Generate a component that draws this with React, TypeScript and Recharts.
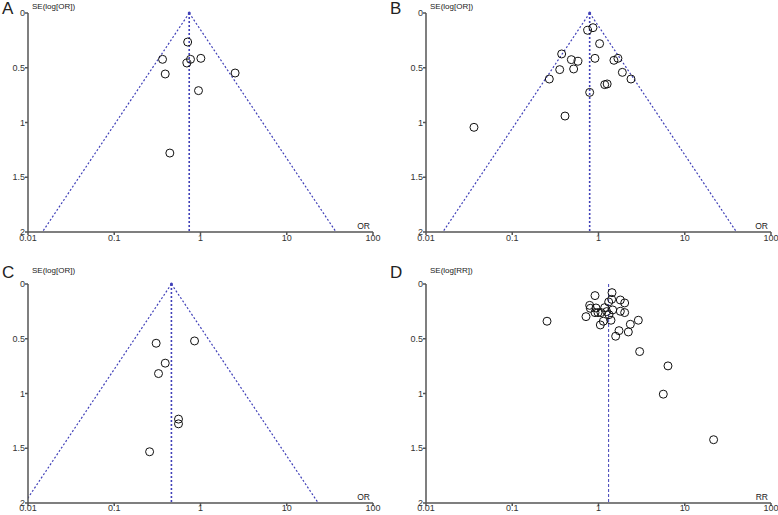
import React from 'react';
import { ScatterChart, Scatter, XAxis, YAxis, ReferenceLine, ReferenceDot } from 'recharts';

const xTicks = [0.01, 0.1, 1, 10, 100];
const yTicks = [0, 0.5, 1, 1.5, 2];

const orA = [0.71, 0.363, 0.766, 1.01, 0.695, 0.39, 2.52, 0.948, 0.441];
const seA = [0.265, 0.423, 0.423, 0.414, 0.457, 0.557, 0.548, 0.709, 1.279];
const summaryA = 0.74;

const orB = [0.748, 0.863, 1.03, 0.374, 0.484, 0.578, 0.91, 1.51, 1.68, 0.355, 0.515, 0.269, 1.89, 2.38, 1.18, 1.26, 0.79, 0.409, 0.036];
const seB = [0.158, 0.134, 0.28, 0.374, 0.426, 0.441, 0.414, 0.432, 0.414, 0.517, 0.511, 0.603, 0.542, 0.603, 0.654, 0.648, 0.725, 0.941, 1.044];
const summaryB = 0.79;

const orC = [0.306, 0.853, 0.39, 0.326, 0.556, 0.556, 0.257];
const seC = [0.541, 0.52, 0.723, 0.818, 1.234, 1.277, 1.532];
const summaryC = 0.46;

const rrD = [1.434, 0.911, 1.421, 1.791, 1.312, 2.011, 0.79, 1.179, 0.935, 0.804, 1.46, 1.791, 2.011, 0.911, 0.987, 1.069, 1.244, 1.323, 0.716, 0.253, 1.138, 1.396, 2.896, 1.05, 2.339, 1.729, 2.218, 1.581, 3.0, 6.39, 5.64, 21.6];
const seD = [0.079, 0.106, 0.14, 0.146, 0.164, 0.173, 0.195, 0.216, 0.219, 0.222, 0.237, 0.249, 0.261, 0.261, 0.261, 0.261, 0.252, 0.28, 0.298, 0.34, 0.34, 0.331, 0.331, 0.374, 0.368, 0.426, 0.438, 0.477, 0.617, 0.748, 1.006, 1.422];
const summaryD = 1.31;

const Z = 1.96;
const SE_MAX = 2;

const FONT = '"Liberation Sans", Arial, sans-serif';
const BLUE = '#4040b8';

const toPoints = (xs: number[], ys: number[]) => xs.map((x, i) => ({ x, y: ys[i] }));

const OpenCircle = (props: any) => {
  const { cx, cy } = props;
  if (cx == null || cy == null) return null;
  return <circle cx={cx} cy={cy} r={4} fill="none" stroke="#111" strokeWidth={1} />;
};

type PanelProps = {
  left: number; top: number; width: number; height: number;
  marginTop: number; marginRight: number; yAxisWidth: number; xAxisHeight: number;
  data: { x: number; y: number }[]; summary: number; funnel: boolean;
  yTitle: string; xTitle: string; letter: string; titleDy: number; xTickMargin: number;
  vWidth: number; vDash: string; letterTop: number;
};

const Panel = (p: PanelProps) => {
  const lowX = p.summary / Math.exp(Z * SE_MAX);
  const highX = p.summary * Math.exp(Z * SE_MAX);
  const YTitle = (props: any) => {
    const vb = props.viewBox || {};
    return (
      <text x={vb.x + vb.width + 4} y={vb.y + p.titleDy} fontSize={8} fontFamily={FONT} fill="#222" dominantBaseline="middle">
        {p.yTitle}
      </text>
    );
  };
  const XTitle = (props: any) => {
    const vb = props.viewBox || {};
    return (
      <text x={vb.x + vb.width - 3} y={vb.y - 3} fontSize={8.5} fontFamily={FONT} fill="#222" textAnchor="end">
        {p.xTitle}
      </text>
    );
  };
  return (
    <div style={{ position: 'absolute', left: p.left, top: p.top, width: p.width, height: p.height }}>
      <div style={{ position: 'absolute', left: 2, top: p.letterTop, fontSize: 17, lineHeight: 1, fontFamily: FONT, color: '#222', zIndex: 2 }}>
        {p.letter}
      </div>
      <ScatterChart width={p.width} height={p.height} margin={{ top: p.marginTop, right: p.marginRight, left: 0, bottom: 0 }}>
        <XAxis
          type="number"
          dataKey="x"
          scale="log"
          domain={[0.01, 100]}
          allowDataOverflow
          ticks={xTicks}
          interval={0}
          tickFormatter={(v: number) => String(v)}
          height={p.xAxisHeight}
          tickSize={3}
          tickMargin={p.xTickMargin}
          stroke="#555"
          strokeWidth={1.5}
          tick={{ fontSize: 9, fill: '#333', fontFamily: FONT }}
          label={<XTitle />}
        />
        <YAxis
          type="number"
          dataKey="y"
          domain={[0, 2]}
          reversed
          allowDataOverflow
          ticks={yTicks}
          interval={0}
          tickFormatter={(v: number) => String(v)}
          width={p.yAxisWidth}
          tickSize={3}
          tickMargin={0}
          stroke="#555"
          strokeWidth={1.5}
          tick={{ fontSize: 9, fill: '#333', fontFamily: FONT }}
          label={<YTitle />}
        />
        {p.funnel && (
          <ReferenceLine
            segment={[{ x: p.summary, y: 0 }, { x: lowX, y: SE_MAX }]}
            stroke={BLUE}
            strokeWidth={1.2}
            strokeDasharray="2 2"
            ifOverflow="hidden"
          />
        )}
        {p.funnel && (
          <ReferenceLine
            segment={[{ x: p.summary, y: 0 }, { x: highX, y: SE_MAX }]}
            stroke={BLUE}
            strokeWidth={1.2}
            strokeDasharray="2 2"
            ifOverflow="hidden"
          />
        )}
        <ReferenceLine
          segment={[{ x: p.summary, y: 0 }, { x: p.summary, y: SE_MAX }]}
          stroke={BLUE}
          strokeWidth={p.vWidth}
          strokeDasharray={p.vDash}
          ifOverflow="hidden"
        />
        {p.funnel && <ReferenceDot x={p.summary} y={0} r={1.5} fill={BLUE} stroke="none" />}
        <Scatter data={p.data} shape={<OpenCircle />} isAnimationActive={false} />
      </ScatterChart>
    </div>
  );
};

export default function App() {
  return (
    <div style={{ position: 'absolute', left: 0, top: 0, width: 778, height: 515, background: '#fff', overflow: 'hidden' }}>
      <Panel left={0} top={0} width={389} height={255} marginTop={13} marginRight={16} yAxisWidth={28} xAxisHeight={23}
        data={toPoints(orA, seA)} summary={summaryA} funnel yTitle="SE(log[OR])" xTitle="OR" letter="A" titleDy={-6} xTickMargin={0}
        vWidth={1.6} vDash="2 2" letterTop={0} />
      <Panel left={388} top={0} width={390} height={255} marginTop={13} marginRight={7} yAxisWidth={38} xAxisHeight={23}
        data={toPoints(orB, seB)} summary={summaryB} funnel yTitle="SE(log[OR])" xTitle="OR" letter="B" titleDy={-6} xTickMargin={0}
        vWidth={1.6} vDash="2 2" letterTop={0} />
      <Panel left={0} top={255} width={389} height={260} marginTop={29} marginRight={16} yAxisWidth={28} xAxisHeight={12}
        data={toPoints(orC, seC)} summary={summaryC} funnel yTitle="SE(log[OR])" xTitle="OR" letter="C" titleDy={-13} xTickMargin={-1}
        vWidth={1.6} vDash="2 2" letterTop={9} />
      <Panel left={388} top={255} width={390} height={260} marginTop={29} marginRight={7} yAxisWidth={38} xAxisHeight={12}
        data={toPoints(rrD, seD)} summary={summaryD} funnel={false} yTitle="SE(log[RR])" xTitle="RR" letter="D" titleDy={-13} xTickMargin={-1}
        vWidth={1} vDash="3 2" letterTop={9} />
    </div>
  );
}
